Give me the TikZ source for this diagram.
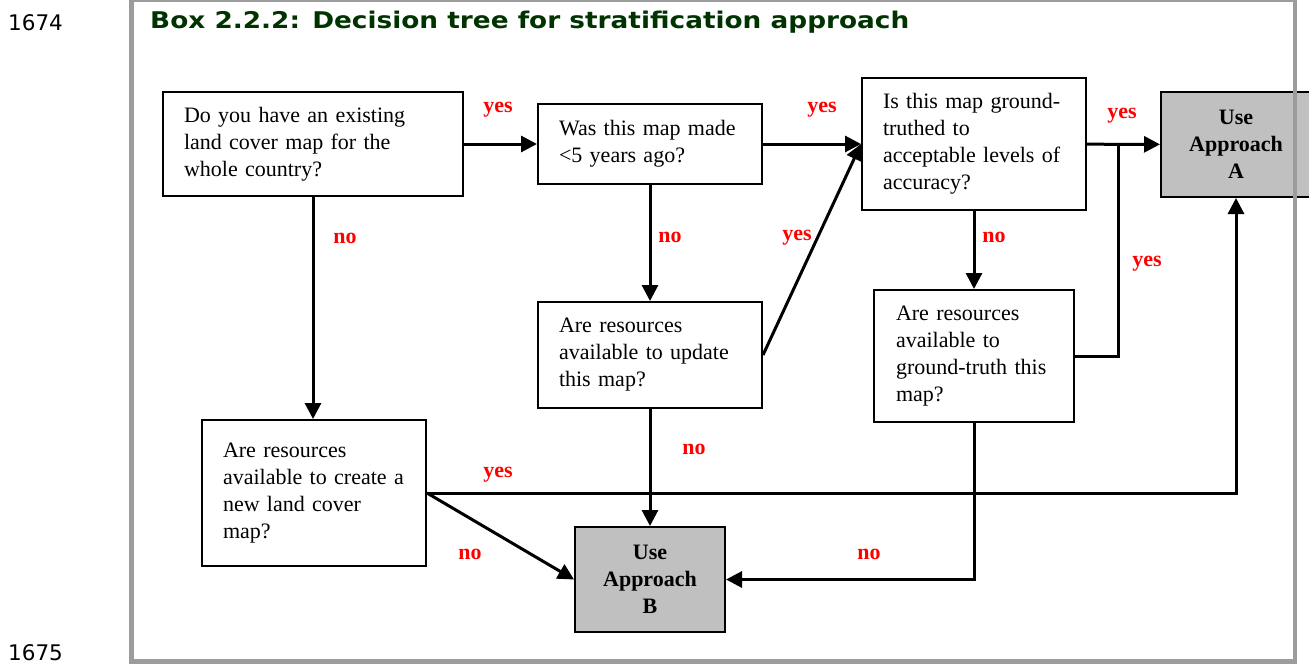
\documentclass[tikz,border=0pt]{standalone}
\usepackage{fontspec}
\setmainfont{Liberation Serif}
\newfontfamily\headfont[FakeStretch=1.145]{DejaVu Sans}
\newfontfamily\numfont{DejaVu Sans}
\usepackage{tikz}
\usetikzlibrary{arrows.meta}
\definecolor{titlegreen}{HTML}{003300}
\definecolor{boxgray}{HTML}{C0C0C0}
\definecolor{framegray}{HTML}{9C9C9C}
\tikzset{question/.style = {draw, line width=2pt, align=left, inner xsep=21pt, inner ysep=0,
                            font=\fontsize{22}{27}\selectfont}}
\tikzset{approach/.style = {draw, line width=2pt, fill=boxgray, align=center, inner sep=0,
                            minimum width=150pt, minimum height=105pt,
                            font=\fontsize{22}{27}\selectfont\bfseries}}
\tikzset{answer/.style = {text=red, inner sep=0, font=\fontsize{22}{27}\selectfont\bfseries}}
\tikzset{link/.style = {line width=3pt}}
\tikzset{arr/.style = {link, -{Triangle[length=16pt, width=16pt]}}}

\begin{document}
\begin{tikzpicture}[x=1pt, y=-1pt]
  \useasboundingbox (0,0) rectangle (1309,664);
  % heading
  \node [anchor=base west, inner sep=0, text=titlegreen,
         font=\headfont\fontsize{23}{28}\selectfont\bfseries] (title) at (150,28.7)
        {Box 2.2.2: Decision tree for stratification approach};
  \node [anchor=base west, inner sep=0, font=\numfont\fontsize{21.5}{26}\selectfont] (lineA) at (8,30) {1674};
  \node [anchor=base west, inner sep=0, font=\numfont\fontsize{21.5}{26}\selectfont] (lineB) at (8,660) {1675};
  % questions
  \node [question, text width=258pt, minimum height=104pt] (existing) at (313,144)
        {Do you have an existing\\land cover map for the\\whole country?};
  \node [question, text width=182pt, minimum height=80pt] (recent) at (650,144)
        {Was this map made\\<5 years ago?};
  \node [question, text width=182pt, minimum height=132pt] (truthed) at (974,144)
        {Is this map ground-\\truthed to\\acceptable levels of\\accuracy?};
  \node [question, text width=182pt, minimum height=106pt] (update) at (650,355)
        {Are resources\\available to update\\this map?};
  \node [question, text width=156pt, inner xsep=22pt, minimum height=132pt] (groundtruth) at (974,356)
        {Are resources\\available to\\ground-truth this\\map?};
  \node [question, text width=182pt, minimum height=146pt] (create) at (314,493)
        {Are resources\\available to create a\\new land cover\\map?\\[9pt]};
  % outcomes
  \node [approach] (useA) at (1236,144.5) {Use\\Approach\\A};
  \node [approach] (useB) at (650,579.5) {Use\\Approach\\B};
  % connectors
  \coordinate (join) at (1118,144);
  \draw [arr] (existing) -- (recent);
  \draw [arr] (recent) -- (truthed);
  \draw [arr] (truthed) -- (useA);
  \draw [arr] (existing.south) -- (existing.south |- create.north);
  \draw [arr] (recent) -- (update);
  \draw [arr] (update.east) -- (truthed.west);
  \draw [arr] (truthed) -- (groundtruth);
  \draw [link] (groundtruth.east) -| (join);
  \draw [arr] (update) -- (useB);
  \draw [arr] (create.east) -| (useA.south);
  \draw [arr] (create.east) -- (useB.west);
  \draw [arr] (groundtruth.south) |- (useB.east);
  % answers
  \node [answer] (yesA) at (498,110) {yes};
  \node [answer] (yesB) at (822,110) {yes};
  \node [answer] (yesC) at (1122,116) {yes};
  \node [answer] (noA) at (345,238) {no};
  \node [answer] (noB) at (670,237) {no};
  \node [answer] (yesD) at (797,238) {yes};
  \node [answer] (noC) at (994,237) {no};
  \node [answer] (yesE) at (1147,264) {yes};
  \node [answer] (noD) at (694,449) {no};
  \node [answer] (yesF) at (498,475) {yes};
  \node [answer] (noE) at (470,554) {no};
  \node [answer] (noF) at (869,554) {no};
  % frame
  \draw [framegray, line width=4.5pt] (131.5,0) -- (131.5,661.5) -- (1295,661.5) -- (1295,0) -- cycle;
\end{tikzpicture}
\end{document}
